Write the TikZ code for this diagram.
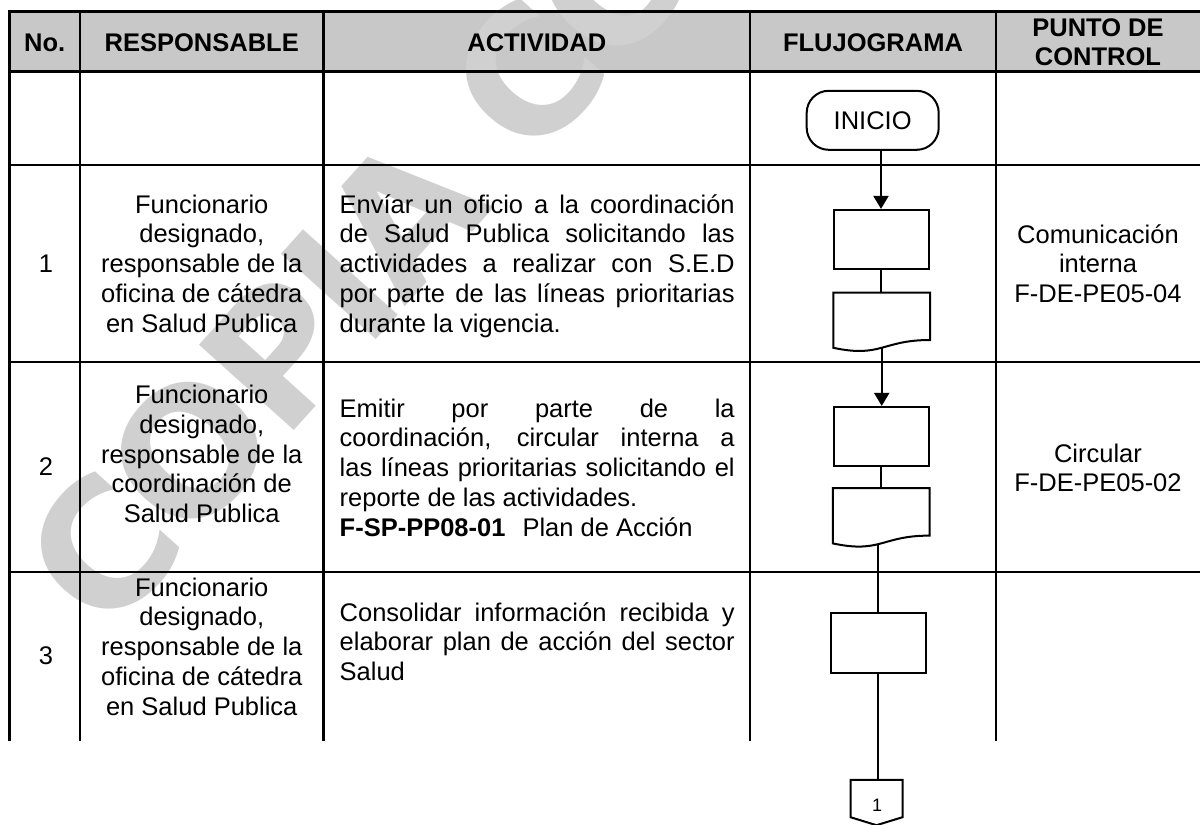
\documentclass[tikz,border=0pt]{standalone}
\usepackage{fontspec}
\setmainfont{Liberation Sans}
\newfontfamily\wmfont[LetterSpace=-3.5]{DejaVu Sans}
\usetikzlibrary{arrows.meta,calc}
\definecolor{hdrgray}{RGB}{200,200,200}
\definecolor{wmgray}{RGB}{208,208,208}
\newcommand\cellfont{\fontsize{25.5}{29.8}\selectfont}
\newcommand\jline[1]{\makebox[395pt][s]{#1}}
\newcommand\docshape[1]{%
  \draw[flowline] (#1.north west) -- (#1.north east) -- ($(#1.north east)+(0,47.5)$)
    .. controls ($(#1.north)+(0,47.5)$) and ($(#1.north)+(0,65.6)$) .. ($(#1.north west)+(0,55.3)$) -- cycle;}
\begin{document}
\begin{tikzpicture}[x=1pt,y=-1pt,
  gridline/.style={line width=2.6pt},
  flowline/.style={line width=2pt},
  proc/.style={draw, line width=2pt, minimum width=95pt, minimum height=59.5pt, inner sep=0pt},
  docbox/.style={draw=none, minimum width=96.5pt, minimum height=55.3pt, inner sep=0pt},
  term/.style={draw, line width=2pt, rounded corners=22pt, minimum width=132pt, minimum height=59pt, inner sep=0pt, font=\cellfont},
  arr/.style={line width=2pt, -{Triangle[width=15pt,length=13pt]}},
  hdr/.style={font=\fontsize{25.5}{29}\selectfont\bfseries, inner sep=0pt, anchor=base},
  cell/.style={inner sep=0pt, anchor=base},
]
\fill[white] (0,0) rectangle (1200,825);
\useasboundingbox (0,0) rectangle (1200,825);
% header shading
\fill[hdrgray] (9.5,11.5) rectangle (1203,71.5);
% watermark
\begin{scope}
\clip (0,0) rectangle (1200,825);
\node[rotate=48, anchor=base west, inner sep=0pt, text=wmgray,
  font=\fontsize{175}{175}\selectfont\wmfont\bfseries] (wm) at (106,639.5) {COPIA CONTROLADA};
\end{scope}
% table grid
\foreach \yy in {11.5,71.5,165,362,572}
  \draw[gridline, line cap=rect] (9.5,\yy) -- (1203,\yy);
\foreach \xx in {9.5,80,323.5,750,996}
  \draw[gridline] (\xx,11.5) -- (\xx,741);
% header texts
\node[hdr] (h1) at (44.75,51.5) {No.};
\node[hdr] (h2) at (201.75,51.5) {RESPONSABLE};
\node[hdr] (h3) at (536.75,51.5) {ACTIVIDAD};
\node[hdr] (h4) at (873,51.5) {FLUJOGRAMA};
\node[hdr] (h5) at (1098,36.5) {\parbox[t]{180pt}{\centering PUNTO DE\\CONTROL}};
% numbers
\node[cell, font=\cellfont] (n1) at (46,272) {1};
\node[cell, font=\cellfont] (n2) at (46,475) {2};
\node[cell, font=\cellfont] (n3) at (46,664) {3};
% responsables
\node[cell] (r1) at (201.75,213) {\parbox[t]{215pt}{\cellfont\centering Funcionario\\designado,\\responsable de la\\oficina de cátedra\\en Salud Publica}};
\node[cell] (r2) at (201.75,403.5) {\parbox[t]{215pt}{\cellfont\centering Funcionario\\designado,\\responsable de la\\coordinación de\\Salud Publica}};
\node[cell] (r3) at (201.75,596) {\parbox[t]{215pt}{\cellfont\centering Funcionario\\designado,\\responsable de la\\oficina de cátedra\\en Salud Publica}};
% actividades
\node[cell, anchor=base west] (a1) at (339.5,213) {\parbox[t]{395pt}{\cellfont
  \jline{Envíar un oficio a la coordinación}\\
  \jline{de Salud Publica solicitando las}\\
  \jline{actividades a realizar con S.E.D}\\
  \jline{por parte de las líneas prioritarias}\\
  durante la vigencia.}};
\node[cell, anchor=base west] (a2) at (339.5,417) {\parbox[t]{395pt}{\cellfont
  \jline{Emitir por parte de la}\\
  \jline{coordinación, circular interna a}\\
  \jline{las líneas prioritarias solicitando el}\\
  reporte de las actividades.\\
  \textbf{F-SP-PP08-01}\hspace{17pt}Plan de Acción}};
\node[cell, anchor=base west] (a3) at (339.5,621) {\parbox[t]{395pt}{\cellfont
  \jline{Consolidar información recibida y}\\
  \jline{elaborar plan de acción del sector}\\
  Salud}};
% puntos de control
\node[cell] (p1) at (1098,243) {\parbox[t]{180pt}{\cellfont\centering Comunicación\\interna\\F-DE-PE05-04}};
\node[cell] (p2) at (1098,462) {\parbox[t]{180pt}{\cellfont\centering Circular\\F-DE-PE05-02}};
% flowchart
\node[term] (inicio) at (872.7,120.3) {INICIO};
\node[proc] (b1) at (881,239.65) {};
\node[docbox] (d1) at (881.75,320.35) {};
\docshape{d1}
\node[proc] (b2) at (881,436.7) {};
\node[docbox] (d2) at (881.25,515.95) {};
\docshape{d2}
\node[proc] (b3) at (878,643) {};
\node[draw=none, minimum width=51.6pt, minimum height=37pt, inner sep=0pt] (c1) at (876.5,798.5) {};
\draw[flowline] (c1.north west) -- (c1.north east) -- (c1.south east) -- ($(c1.south)+(0,8)$) -- (c1.south west) -- cycle;
\node[cell, font=\fontsize{18}{18}\selectfont] (c1lbl) at (877,811) {1};
% connectors
\draw[arr] (b1.north |- inicio.south) -- (b1.north);
\draw[flowline] (b1.south) -- (b1.south |- d1.north);
\draw[arr] (d1.south) -- (d1.south |- b2.north);
\draw[flowline] (b2.south) -- (b2.south |- d2.north);
\draw[flowline] (b3.north |- d2.south) -- (b3.north);
\draw[flowline] (b3.south) -- (b3.south |- c1.north);
\end{tikzpicture}
\end{document}
